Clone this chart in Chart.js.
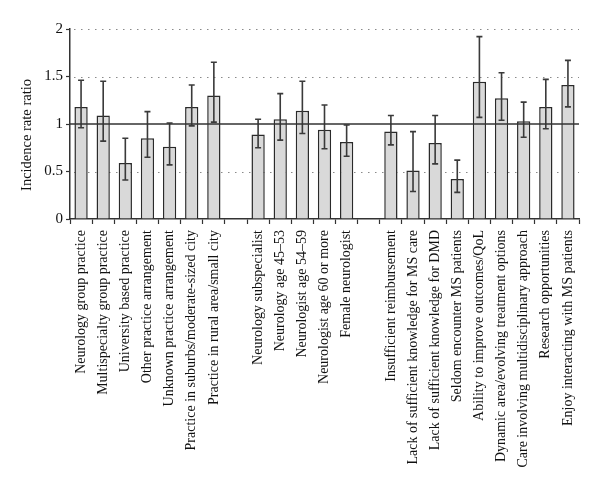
<!DOCTYPE html>
<html>
<head>
<meta charset="utf-8">
<script src="https://cdn.jsdelivr.net/npm/chart.js@4/dist/chart.umd.min.js"></script>
<style>
html,body{margin:0;padding:0;background:#fff;}
#wrap{width:600px;height:495px;}
</style>
</head>
<body>
<div id="wrap"><canvas id="c" width="600" height="495"></canvas></div>
<script>
const categories = [
  "Neurology group practice",
  "Multispecialty group practice",
  "University based practice",
  "Other practice arrangement",
  "Unknown practice arrangement",
  "Practice in suburbs/moderate-sized city",
  "Practice in rural area/small city",
  "",
  "Neurology subspecialist",
  "Neurology age 45–53",
  "Neurologist age 54–59",
  "Neurologist age 60 or more",
  "Female neurologist",
  "",
  "Insufficient reimbursement",
  "Lack of sufficient knowledge for MS care",
  "Lack of sufficient knowledge for DMD",
  "Seldom encounter MS patients",
  "Ability to improve outcomes/QoL",
  "Dynamic area/evolving treatment options",
  "Care involving multidisciplinary approach",
  "Research opportunities",
  "Enjoy interacting with MS patients"
];
const irr = [1.18, 1.09, 0.59, 0.85, 0.76, 1.18, 1.30, null,
             0.89, 1.05, 1.14, 0.94, 0.81, null,
             0.92, 0.51, 0.80, 0.42, 1.445, 1.27, 1.03, 1.18, 1.41];
const ciLow = [0.96, 0.82, 0.41, 0.65, 0.57, 0.98, 1.02, null,
               0.75, 0.83, 0.90, 0.74, 0.66, null,
               0.78, 0.29, 0.58, 0.28, 1.07, 1.04, 0.86, 0.95, 1.18];
const ciHigh = [1.46, 1.45, 0.85, 1.13, 1.01, 1.41, 1.65, null,
                1.05, 1.32, 1.45, 1.20, 0.99, null,
                1.09, 0.92, 1.09, 0.62, 1.92, 1.54, 1.23, 1.47, 1.67];
const yTicks = [0, 0.5, 1, 1.5, 2];
const referenceValue = 1;
const yTitle = 'Incidence rate ratio';

const FONT = "'Liberation Serif', 'DejaVu Serif', serif";

const gridPlugin = {
  id: 'gridPlugin',
  beforeDatasetsDraw(chart) {
    const {ctx, chartArea, scales:{y}} = chart;
    ctx.save();
    ctx.strokeStyle = '#8a8a8a';
    ctx.lineWidth = 1.2;
    ctx.setLineDash([1.5, 5.5]);
    yTicks.forEach(v => {
      if (v === 0 || v === referenceValue) return;
      const py = Math.round(y.getPixelForValue(v)) + 0.5;
      ctx.beginPath();
      ctx.moveTo(chartArea.left + 4, py);
      ctx.lineTo(chartArea.right, py);
      ctx.stroke();
    });
    ctx.restore();
  },
  afterDatasetsDraw(chart) {
    const {ctx, chartArea, scales:{x, y}} = chart;
    ctx.save();
    ctx.strokeStyle = '#3a3a3a';
    ctx.lineWidth = 1.6;
    const cap = 3;
    irr.forEach((v, i) => {
      if (v === null) return;
      const px = x.getPixelForValue(i);
      const yl = y.getPixelForValue(ciLow[i]);
      const yh = y.getPixelForValue(ciHigh[i]);
      ctx.beginPath();
      ctx.moveTo(px, yl); ctx.lineTo(px, yh);
      ctx.moveTo(px - cap, yl); ctx.lineTo(px + cap, yl);
      ctx.moveTo(px - cap, yh); ctx.lineTo(px + cap, yh);
      ctx.stroke();
    });
    ctx.strokeStyle = '#333';
    ctx.lineWidth = 1.5;
    const ry = y.getPixelForValue(referenceValue);
    ctx.beginPath();
    ctx.moveTo(chartArea.left, ry);
    ctx.lineTo(chartArea.right, ry);
    ctx.stroke();
    ctx.restore();
  },
  afterDraw(chart) {
    const {ctx, chartArea} = chart;
    ctx.save();
    ctx.fillStyle = '#111';
    ctx.font = "14.5px " + FONT;
    ctx.textAlign = 'center';
    ctx.textBaseline = 'middle';
    ctx.translate(27, (chartArea.top + chartArea.bottom) / 2 + 11);
    ctx.rotate(-Math.PI / 2);
    ctx.fillText(yTitle, 0, 0);
    ctx.restore();
  }
};

new Chart(document.getElementById('c'), {
  type: 'bar',
  data: {
    labels: categories,
    datasets: [{
      data: irr,
      backgroundColor: '#d9d9d9',
      borderColor: '#2a2a2a',
      borderWidth: 1.5,
      barPercentage: 0.6,
      categoryPercentage: 1.0
    }]
  },
  options: {
    responsive: false,
    animation: false,
    devicePixelRatio: 1,
    layout: { padding: { top: 29, right: 21, left: 0, bottom: 0 } },
    plugins: { legend: { display: false }, tooltip: { enabled: false } },
    scales: {
      x: {
        offset: true,
        grid: { display: true, offset: true, drawOnChartArea: false, drawTicks: true, tickLength: 5, tickColor: '#333', tickWidth: 1.2 },
        border: { display: true, color: '#333', width: 1.5 },
        ticks: {
          autoSkip: false, maxRotation: 90, minRotation: 90,
          color: '#111', padding: 6,
          font: { family: FONT, size: 14 }
        },
        afterFit(scale) { scale.height = 276; }
      },
      y: {
        min: 0, max: 2,
        afterBuildTicks(scale) { scale.ticks = yTicks.map(v => ({ value: v })); },
        grid: { display: true, drawOnChartArea: false, drawTicks: true, tickLength: 4, tickColor: '#333', tickWidth: 1.2 },
        border: { display: true, color: '#333', width: 1.5 },
        ticks: {
          color: '#111', padding: 3,
          font: { family: FONT, size: 15 },
          callback: (v) => String(v)
        },
        afterFit(scale) { scale.width = 70; }
      }
    }
  },
  plugins: [gridPlugin]
});
</script>
</body>
</html>
